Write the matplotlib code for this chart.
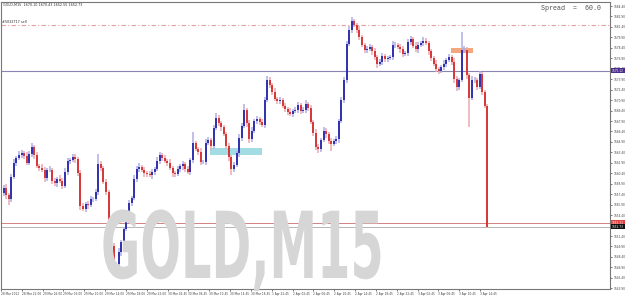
"""GOLD M15 — gráfico de velas estilo MetaTrader (28 Mar - 3 Apr 2012)."""

import numpy as np
import matplotlib
matplotlib.use("Agg")
import matplotlib.pyplot as plt
import matplotlib.patches as mpatches
from matplotlib.patheffects import AbstractPathEffect
from matplotlib.transforms import Affine2D

plt.rcParams.update({
    "font.family": "DejaVu Sans",
    "font.size": 2.1,
    "figure.dpi": 100,
    "savefig.dpi": 100,
})

SMALL = 2.1  # tamaño de las etiquetas de ejes (como en MT4, diminutas)

# ---------------------------------------------------------------------------
# Datos (velas de 30 min)
# ---------------------------------------------------------------------------
first_open = 1657.6
closes = [
    1658.3, 1657.3, 1656.7, 1659.9, 1661.9, 1662.6, 1663.0, 1663.3, 1662.9, 1661.9,
    1663.2, 1664.2, 1663.0, 1661.4, 1661.2, 1660.9, 1659.7, 1660.9, 1660.9, 1659.3,
    1659.0, 1659.6, 1659.3, 1658.6, 1660.6, 1662.2, 1662.3, 1662.7, 1662.4, 1660.4,
    1655.7, 1655.3, 1656.0, 1655.8, 1656.7, 1656.7, 1657.7, 1661.7, 1661.2, 1659.2,
    1657.7, 1652.0, 1650.0, 1647.2, 1647.4, 1649.1, 1650.5, 1652.4, 1654.0, 1656.1,
    1656.8, 1659.6, 1661.0, 1661.3, 1660.9, 1660.4, 1660.3, 1660.1, 1660.6, 1661.0,
    1662.2, 1663.0, 1662.6, 1662.2, 1661.9, 1661.2, 1660.4, 1660.3, 1661.0, 1661.4,
    1661.7, 1661.0, 1660.6, 1662.3, 1664.7, 1663.9, 1663.5, 1662.0, 1662.0, 1664.7,
    1665.2, 1664.3, 1666.9, 1668.3, 1667.6, 1667.0, 1666.0, 1664.3, 1662.7, 1661.0,
    1661.6, 1663.3, 1665.5, 1667.2, 1669.5, 1667.6, 1665.3, 1666.5, 1667.9, 1668.2,
    1667.8, 1667.3, 1670.9, 1673.8, 1673.1, 1672.1, 1671.1, 1670.8, 1670.9, 1670.1,
    1669.6, 1669.2, 1668.9, 1669.3, 1669.5, 1670.2, 1669.3, 1669.5, 1670.3, 1669.8,
    1667.8, 1666.2, 1664.2, 1663.9, 1665.2, 1666.5, 1666.0, 1665.0, 1664.6, 1665.0,
    1665.3, 1667.9, 1670.9, 1673.8, 1678.9, 1681.0, 1682.2, 1681.7, 1681.0, 1679.9,
    1678.8, 1678.1, 1678.2, 1678.5, 1677.9, 1677.1, 1676.1, 1676.4, 1677.2, 1676.8,
    1676.9, 1677.1, 1678.8, 1678.8, 1678.5, 1678.2, 1677.5, 1677.7, 1679.2, 1679.7,
    1678.7, 1678.2, 1678.8, 1679.1, 1679.4, 1679.1, 1677.9, 1676.9, 1676.1, 1675.4,
    1675.1, 1675.6, 1676.1, 1676.7, 1677.1, 1676.4, 1673.9, 1672.8, 1673.8, 1678.1,
    1678.1, 1674.5, 1671.2, 1673.8, 1673.8, 1672.8, 1674.6, 1672.1, 1670.1, 1652.7,
]
wick_up = [
    .4, .5, .3, .4, .5, .3, .6, .4, .3, .5,
    .4, .6, .3, .4, .3, .5, .4, .3, .5, .3,
    .4, .3, .5, .4, .6, .4, .3, .5, .4, .3,
    .5, .4, .3, .4, .5, .3, .4, 1.5, .4, .3,
    .4, .3, .5, .4, .3, .6, .4, .3, .5, .4,
    .3, .5, .4, .6, .3, .4, .3, .5, .4, .3,
    .5, .4, .3, .4, .3, .5, .3, .4, .5, .3,
    .4, .3, .5, .3, 1.6, .4, .3, .5, .3, .6,
    .4, .3, .5, .8, .4, .3, .4, .3, .5, .3,
    .4, .3, .5, .4, .8, .3, .4, .5, .3, .4,
    .3, .4, .5, .6, .4, .3, .5, .3, .4, .3,
    .4, .3, .5, .3, .4, .5, .3, .4, .6, .3,
    .4, .3, .5, .4, .3, .5, .4, .3, .5, .3,
    .4, .3, .5, .4, .5, .6, .6, .4, .3, .5,
    .4, .3, .5, .4, .3, .5, .3, .4, .5, .3,
    .4, .3, .6, .4, .3, .5, .4, .3, .5, .4,
    .3, .5, .4, .3, .5, .4, .3, .4, .3, .5,
    .3, .4, .5, .3, .4, .3, .5, .4, .3, 2.6,
    .5, .4, .3, .5, .4, .3, .5, .4, .3, .3,
]
wick_dn = [
    .5, .6, .8, .4, .3, .5, .3, .4, .5, .3,
    .3, .4, .5, .3, .4, .3, .5, .4, .3, .5,
    .4, .5, .3, .4, .3, .5, .4, .3, .5, .4,
    .5, .3, .4, .5, .3, .4, .3, .4, .5, .3,
    .4, .6, .5, 1.5, .4, .3, .5, .4, .3, .5,
    .4, .3, .5, .4, .3, .5, .4, .3, .5, .4,
    .3, .4, .5, .3, .4, .3, .5, .4, .3, .4,
    .5, .4, .3, .5, .4, .3, .5, .4, .3, .4,
    .3, .5, .4, .3, .4, .5, .3, .4, .5, .8,
    .4, .3, .5, .4, .3, .5, .6, .4, .3, .4,
    .5, .3, .4, .3, .5, .4, .3, .5, .4, .3,
    .4, .5, .3, .4, .3, .5, .4, .3, .4, .5,
    .3, .4, .5, .6, .4, .3, .5, .4, 1.0, .3,
    .4, .6, .3, .4, .5, .3, .4, .3, .5, .4,
    .3, .5, .4, .3, .5, .4, .6, .3, .4, .5,
    .4, .3, .5, .4, .3, .5, .4, .3, .5, .4,
    .3, .4, .5, .3, .4, .3, .5, .4, .3, .4,
    .5, .3, .4, .5, .3, .4, .5, .6, .4, .3,
    .4, .5, 4.2, .3, .4, .5, .3, .5, .4, .1,
]

time_labels = [
    "28 Mar 2012", "28 Mar 22:00", "29 Mar 02:00", "29 Mar 06:00", "29 Mar 10:00",
    "29 Mar 14:00", "29 Mar 18:00", "29 Mar 22:00", "30 Mar 02:45", "30 Mar 06:45",
    "30 Mar 10:45", "30 Mar 14:45", "30 Mar 18:45", "1 Apr 22:45", "2 Apr 02:45",
    "2 Apr 06:45", "2 Apr 10:45", "2 Apr 14:45", "2 Apr 18:45", "2 Apr 22:45",
    "3 Apr 02:45", "3 Apr 06:45", "3 Apr 10:45", "3 Apr 14:45",
]
price_ticks = [1684.40 - 1.5 * k for k in range(28)]

order_level = 1681.67      # línea de orden (#5032717 sell)
hline_level = 1675.12      # línea horizontal
red_level = 1653.31
bid_level = 1652.73
cyan_zone = (80.6, 100.9, 1663.02, 1663.96)
orange_zone = (174.8, 183.3, 1677.66, 1678.37)

UP_BODY, UP_WICK = "#2626aa", "#aeaee6"
DN_BODY, DN_WICK = "#d42c2c", "#ecaab2"


class Stretch(AbstractPathEffect):
    """Estira los glifos alrededor de un punto (px) — para la marca de agua."""

    def __init__(self, sx, sy, origin):
        super().__init__()
        self.sx, self.sy, self.origin = sx, sy, origin

    def draw_path(self, renderer, gc, tpath, affine, rgbFace=None):
        ox, oy = self.origin
        t = affine + Affine2D().translate(-ox, -oy).scale(self.sx, self.sy).translate(ox, oy)
        renderer.draw_path(gc, tpath, t, rgbFace)


def main() -> None:
    W, H = 625, 296
    fig = plt.figure(figsize=(W / 100, H / 100), dpi=100)
    ax = fig.add_axes([1 / W, 7.5 / H, 609 / W, 287 / H])

    # marca de agua
    fig.text(101 / W, 18 / H, "GOLD,M15", fontsize=35, fontweight="bold",
             color="#d6d6d6", ha="left", va="baseline", zorder=0,
             path_effects=[Stretch(0.985, 1.9, (101, 18))])

    c = np.array(closes)
    o = np.concatenate([[first_open], c[:-1]])
    hi = np.maximum(o, c) + np.array(wick_up)
    lo = np.minimum(o, c) - np.array(wick_dn)
    x = np.arange(len(c))
    up = c >= o

    ax.vlines(x[up], lo[up], hi[up], color=UP_WICK, lw=1.1, zorder=3)
    ax.vlines(x[~up], lo[~up], hi[~up], color=DN_WICK, lw=1.1, zorder=3)
    ax.vlines(x[up], o[up], c[up], color=UP_BODY, lw=1.3, zorder=4)
    ax.vlines(x[~up], o[~up], c[~up], color=DN_BODY, lw=1.3, zorder=4)

    for (x0, x1, y0, y1), col in [(cyan_zone, "#a4dce4"), (orange_zone, "#f4a67c")]:
        ax.add_patch(mpatches.Rectangle((x0, y0), x1 - x0, y1 - y0,
                                        facecolor=col, edgecolor="none", zorder=2))

    ax.axhline(hline_level, color="#8a86b4", lw=0.8, zorder=1)
    ax.axhline(order_level, color="#e0a0a0", lw=0.8, ls=(0, (4, 2, 1, 2)), zorder=1)
    ax.axhline(red_level, color="#cc6c6c", lw=0.6, zorder=1)
    ax.axhline(bid_level, color="#a8a8a8", lw=0.6, zorder=1)

    ax.set_xlim(-1.02, 236.9)
    ax.set_ylim(1643.87, 1685.05)

    ax.yaxis.tick_right()
    ax.set_yticks(price_ticks)
    ax.set_yticklabels([f"{p:.2f}" for p in price_ticks])
    ax.tick_params(axis="y", length=1.5, width=0.5, pad=0.8, colors="#404040",
                   labelsize=SMALL)
    ax.set_xticks(-1.016 + 8.137 * np.arange(len(time_labels)))
    ax.set_xticklabels(time_labels, ha="left")
    ax.tick_params(axis="x", length=1.5, width=0.5, pad=0.8, colors="#404040",
                   labelsize=SMALL)
    for s in ax.spines.values():
        s.set_color("#777777")
        s.set_linewidth(0.8)

    # etiquetas de precio en el eje
    ytr = ax.get_yaxis_transform()
    for lvl, fc in [(hline_level, "#4a2c8c"), (red_level, "#e04040"), (bid_level, "#111111")]:
        ax.text(1.003, lvl, f"{lvl:.2f}", transform=ytr, ha="left", va="center",
                fontsize=SMALL, color="white", clip_on=False, zorder=6,
                bbox=dict(boxstyle="square,pad=0.25", fc=fc, ec="none"))

    ax.text(0.002, order_level + 0.2, "#5032717 sell", transform=ytr, ha="left",
            va="bottom", fontsize=SMALL + 0.3, color="#303030")
    fig.text(3 / W, 1 - 4.5 / H, "GOLD,M15  1670.10 1670.43 1652.55 1652.73",
             fontsize=SMALL + 0.3, color="#303030", ha="left", va="center")
    fig.text(541 / W, 1 - 8 / H, "Spread  =  60.0", family="Liberation Mono",
             fontsize=4.8, color="#505050", ha="left", va="center")

    fig.savefig("out.png", dpi=100, facecolor="white")
    plt.close(fig)


if __name__ == "__main__":
    main()
